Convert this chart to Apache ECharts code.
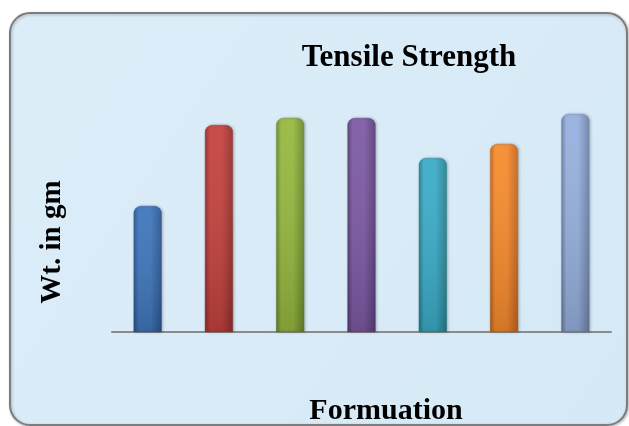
<!DOCTYPE html>
<html>
<head>
<meta charset="utf-8">
<script src="https://cdn.jsdelivr.net/npm/echarts@6/dist/echarts.min.js"></script>
<style>
  html, body { margin: 0; padding: 0; background: #ffffff; }
  #chart { width: 629px; height: 426px; }
</style>
</head>
<body>
<div id="chart"></div>
<script>
// Tensile strength of each formulation (weight in gm)
const formulations = ['F1', 'F2', 'F3', 'F4', 'F5', 'F6', 'F7'];
const tensileValues = [126, 207, 214, 214, 174, 188, 218];
// light / dark shade pairs for each column
const lightShades = ['#3f76bc', '#c4423e', '#96b83f', '#7d5aa4', '#3bacc8', '#f78b2d', '#96b0de'];
const darkShades  = ['#2b5690', '#94302d', '#6b8a2e', '#5a3f7b', '#28808f', '#c2661f', '#6e82aa'];

const chart = echarts.init(document.getElementById('chart'));

function cylinder(i) {
  return {
    type: 'linear', x: 0, y: 0, x2: 1, y2: 0,
    colorStops: [
      { offset: 0, color: darkShades[i] },
      { offset: 0.18, color: lightShades[i] },
      { offset: 0.6, color: lightShades[i] },
      { offset: 1, color: darkShades[i] }
    ]
  };
}

chart.setOption({
  animation: false,
  graphic: [{
    type: 'rect',
    z: -10,
    silent: true,
    shape: { x: 10, y: 13, width: 617, height: 412, r: 20 },
    style: {
      fill: {
        type: 'linear', x: 0, y: 0, x2: 1, y2: 1,
        colorStops: [
          { offset: 0, color: '#dcedf8' },
          { offset: 1, color: '#d5e9f6' }
        ]
      },
      stroke: '#7d7d7d',
      lineWidth: 2,
      shadowBlur: 3,
      shadowColor: 'rgba(0,0,0,0.25)',
      shadowOffsetX: 1,
      shadowOffsetY: 1
    }
  }],
  title: {
    text: 'Tensile Strength',
    left: 404,
    top: 37,
    textAlign: 'center',
    textStyle: {
      fontFamily: 'Liberation Serif',
      fontWeight: 'bold',
      fontSize: 31,
      color: '#000000'
    }
  },
  grid: { left: 112, right: 18, top: 82, bottom: 94, containLabel: false, outerBoundsMode: 'none' },
  xAxis: {
    type: 'category',
    data: formulations,
    name: 'Formuation',
    nameLocation: 'middle',
    nameGap: 64,
    nameTextStyle: {
      fontFamily: 'Liberation Serif',
      fontWeight: 'bold',
      fontSize: 30,
      color: '#000000',
      padding: [0, 0, 0, 49]
    },
    axisLine: { lineStyle: { color: '#8a8a8a', width: 2 } },
    axisTick: { show: false },
    axisLabel: { show: false }
  },
  yAxis: {
    type: 'value',
    min: 0,
    max: 250,
    name: 'Wt. in gm',
    nameLocation: 'middle',
    nameGap: 45,
    nameRotate: 90,
    nameTextStyle: {
      fontFamily: 'Liberation Serif',
      fontWeight: 'bold',
      fontSize: 29,
      color: '#000000',
      padding: [0, 0, 0, -70]
    },
    axisLine: { show: false },
    axisTick: { show: false },
    axisLabel: { show: false },
    splitLine: { show: false }
  },
  series: [{
    type: 'bar',
    barWidth: 28,
    data: tensileValues.map((v, i) => ({
      value: v,
      itemStyle: {
        color: cylinder(i),
        borderColor: darkShades[i],
        borderWidth: 0.5,
        borderRadius: [7, 7, 0, 0],
        shadowBlur: 3,
        shadowColor: 'rgba(0,0,0,0.25)',
        shadowOffsetX: 1
      }
    }))
  }, {
    // vertical shading laid over each column
    type: 'bar',
    barWidth: 28,
    barGap: '-100%',
    silent: true,
    data: tensileValues,
    itemStyle: {
      borderRadius: [7, 7, 0, 0],
      color: {
        type: 'linear', x: 0, y: 0, x2: 0, y2: 1,
        colorStops: [
          { offset: 0, color: 'rgba(255,255,255,0.06)' },
          { offset: 1, color: 'rgba(0,0,0,0.15)' }
        ]
      }
    }
  }]
});
</script>
</body>
</html>
